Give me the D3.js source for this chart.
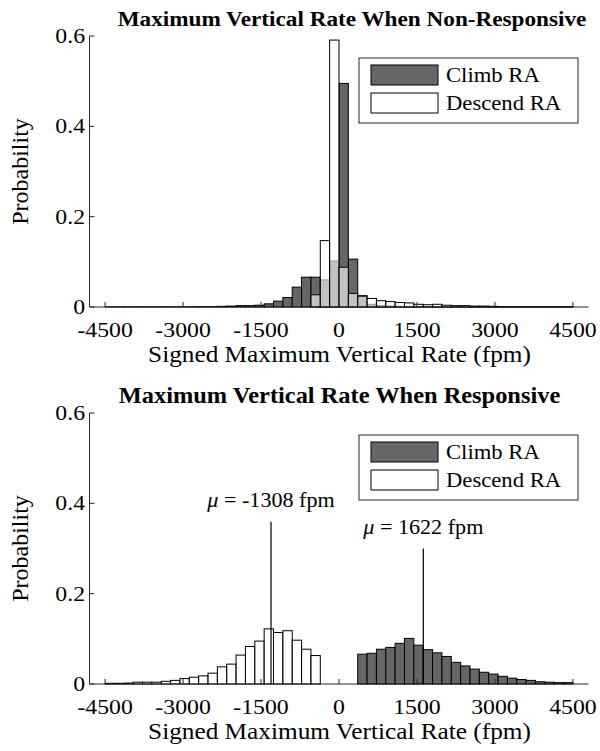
<!DOCTYPE html>
<html><head><meta charset="utf-8">
<script src="https://cdn.jsdelivr.net/npm/d3@7"></script>
<style>body{margin:0;background:#fff}svg{display:block}text{font-family:"Liberation Serif","Times New Roman",serif;fill:#000}</style>
</head><body><svg id="c" width="600" height="751"></svg>
<script>
// bin edges: multiples of 180 fpm from -4500 to 4500 (50 bins)
const binWidth = 180;
const binStart = -4500;
const xTicks = [-4500, -3000, -1500, 0, 1500, 3000, 4500];
const yTicks = [0, 0.2, 0.4, 0.6];
const seriesNames = ["Climb RA", "Descend RA"];

// Top: non-responsive
const topClimb = [0.0005,0.0005,0.0005,0.0005,0.0005,0.0005,0.0005,0.0005,0.0005,0.0008,0.001,0.001,0.0015,0.002,0.003,0.003,0.004,0.007,0.013,0.021,0.044,0.066,0.066,0.060,0.102,
  0.495,0.106,0.025,0.006,0.003,0.002,0.0015,0.001,0.001,0.001,0.0008,0.0005,0.0005,0.0005,0.0005,0.0005,0.0005,0.0005,0.0005,0.0005,0.0005,0.0005,0.0005,0.0005,0.0005];
const topDescend = [0,0,0,0,0,0,0,0,0,0,0,0,0,0,0,0,0,0,0,0,0,0,0.027,0.147,0.591,
  0.088,0.030,0.024,0.019,0.014,0.012,0.010,0.009,0.006,0.005,0.006,0.004,0.003,0.003,0.002,0.002,0.0015,0.001,0.001,0.001,0.0008,0.0008,0.0005,0.0005,0.0005];

// Bottom: responsive
const botDescend = [0.0015,0.0015,0.002,0.004,0.004,0.004,0.006,0.008,0.012,0.015,0.018,0.024,0.038,0.044,0.064,0.083,0.095,0.122,0.114,0.118,0.097,0.077,0.063,0,0,
  0,0,0,0,0,0,0,0,0,0,0,0,0,0,0,0,0,0,0,0,0,0,0,0,0];
const botClimb = [0,0,0,0,0,0,0,0,0,0,0,0,0,0,0,0,0,0,0,0,0,0,0,0,0,
  0,0,0.066,0.068,0.077,0.081,0.090,0.101,0.086,0.076,0.069,0.061,0.048,0.040,0.033,0.026,0.022,0.017,0.013,0.010,0.008,0.005,0.004,0.003,0.003];

const climbMean = 1622, descendMean = -1308;

const svg = d3.select("#c");
const x = d3.scaleLinear().domain([-4800, 4800]).range([89.5, 588.5]);
const SX = 1.08; // horizontal text stretch

function txt(g, s, px, py, opts) {
  const sx = opts.sx || SX;
  const t = g.append("text")
    .attr("transform", opts.rot ? `translate(${px},${py}) rotate(-90)` : `translate(${px},${py}) scale(${sx},1)`)
    .attr("text-anchor", opts.anchor || "middle")
    .attr("font-size", opts.size || 22)
    .attr("font-weight", opts.bold ? "bold" : "normal")
    .text(s);
  return t;
}

function bins(vals) { return vals.map((v, i) => ({x0: binStart + i * binWidth, x1: binStart + (i + 1) * binWidth, v})); }

function panel(y0, y1, title, titleSize, titleX, climb, descend, means) {
  const y = d3.scaleLinear().domain([0, 0.6]).range([y1, y0]);
  const g = svg.append("g");
  const cb = bins(climb), db = bins(descend);
  g.append("g").selectAll("rect").data(cb.filter(d => d.v > 0)).join("rect")
    .attr("x", d => x(d.x0)).attr("width", d => x(d.x1) - x(d.x0))
    .attr("y", d => y(d.v)).attr("height", d => y(0) - y(d.v))
    .attr("fill", "#666666").attr("stroke", "#000").attr("stroke-width", 1);
  g.append("g").selectAll("rect").data(db.filter(d => d.v > 0)).join("rect")
    .attr("x", d => x(d.x0)).attr("width", d => x(d.x1) - x(d.x0))
    .attr("y", d => y(d.v)).attr("height", d => y(0) - y(d.v))
    .attr("fill", "#fff").attr("fill-opacity", 0.6).attr("stroke", "#000").attr("stroke-width", 1);

  if (means) {
    means.forEach(m => {
      g.append("line").attr("x1", x(m.v)).attr("x2", x(m.v)).attr("y1", y(m.top)).attr("y2", y(0))
        .attr("stroke", "#000").attr("stroke-width", 1.2);
      const t = g.append("text")
        .attr("transform", `translate(${x(m.v)},${y(m.top) - 15}) scale(${SX},1)`)
        .attr("text-anchor", "middle").attr("font-size", 20.5);
      t.append("tspan").attr("font-style", "italic").text("\u03bc");
      t.append("tspan").text(" = " + m.v + " fpm");
    });
  }

  const ax = g.append("g").attr("stroke", "#262626").attr("stroke-width", 1).attr("fill", "none");
  ax.append("line").attr("x1", x.range()[0]).attr("x2", x.range()[1]).attr("y1", y(0)).attr("y2", y(0));
  ax.append("line").attr("x1", x.range()[0]).attr("x2", x.range()[0]).attr("y1", y(0)).attr("y2", y(0.6));
  xTicks.forEach(v => {
    ax.append("line").attr("x1", x(v)).attr("x2", x(v)).attr("y1", y(0)).attr("y2", y(0) - 5);
    txt(g, String(v), x(v), y(0) + 30, {size: 22});
  });
  yTicks.forEach(v => {
    ax.append("line").attr("x1", x.range()[0]).attr("x2", x.range()[0] + 5).attr("y1", y(v)).attr("y2", y(v));
    txt(g, String(v), 85, y(v) + 7, {size: 22, anchor: "end"});
  });
  txt(g, "Probability", 28, (y0 + y1) / 2, {size: 24, rot: true});
  txt(g, "Signed Maximum Vertical Rate (fpm)", 339.5, y(0) + 55, {size: 23, sx: 1.1});
  txt(g, title, titleX, y0 - 10, {size: titleSize, bold: true});

  const L = g.append("g");
  const ly = y0 + 22;
  L.append("rect").attr("x", 359).attr("y", ly).attr("width", 219).attr("height", 65)
    .attr("fill", "#fff").attr("stroke", "#262626").attr("stroke-width", 1);
  [["#666666", seriesNames[0]], ["#fff", seriesNames[1]]].forEach((d, i) => {
    L.append("rect").attr("x", 371).attr("y", ly + 7 + i * 28).attr("width", 67).attr("height", 20)
      .attr("fill", d[0]).attr("stroke", "#000").attr("stroke-width", 1);
    txt(L, d[1], 446, ly + 24 + i * 28, {size: 21, anchor: "start"});
  });
}

panel(36, 307, "Maximum Vertical Rate When Non-Responsive", 21.5, 352, topClimb, topDescend, null);
panel(413, 684, "Maximum Vertical Rate When Responsive", 22.6, 339.5, botClimb, botDescend,
  [{v: descendMean, top: 0.359}, {v: climbMean, top: 0.30}]);
</script></body></html>
